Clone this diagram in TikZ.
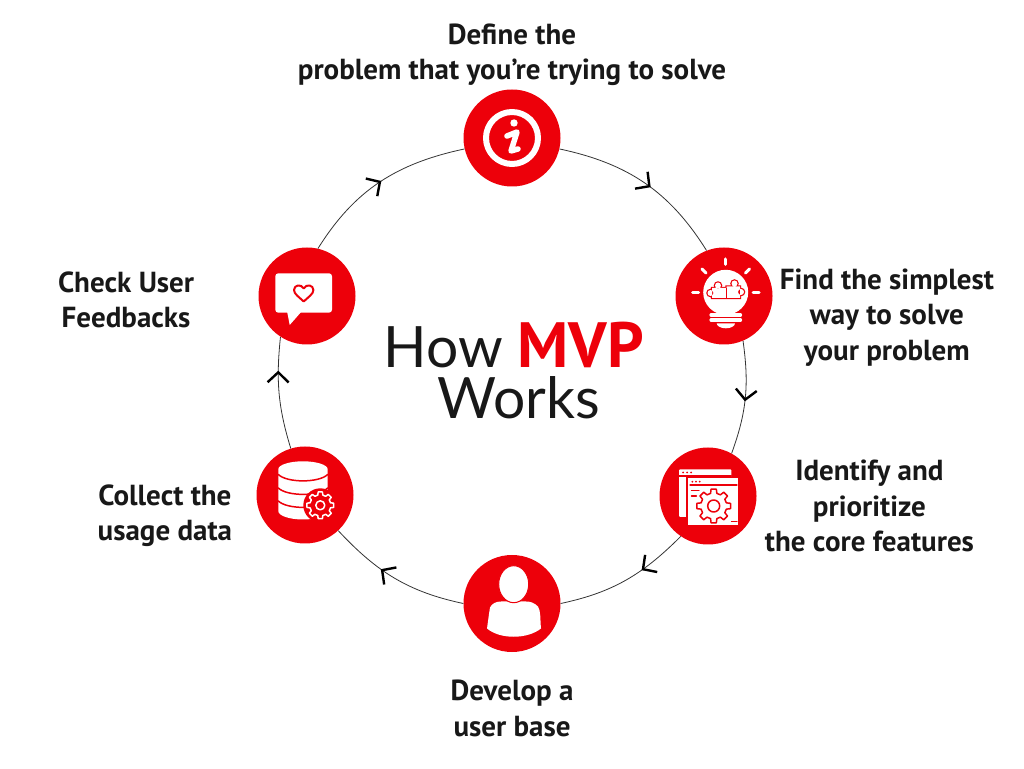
\documentclass[tikz,border=0pt]{standalone}
\usepackage{fontspec}
\setmainfont{PT Sans}
\newfontfamily\titlefont{Lato}
\usetikzlibrary{positioning,arrows.meta,decorations.markings}

\definecolor{mvpred}{RGB}{237,0,10}
\definecolor{mvptext}{RGB}{24,24,24}

\tikzset{
    stepnode/.style={circle, fill=mvpred, minimum size=97pt, inner sep=0pt},
    steplabel/.style={align=center, inner sep=0pt, text=mvptext, font=\fontsize{29}{35.3}\selectfont\bfseries},
    ring/.style={draw=black!80, line width=0.8pt},
    ringarrow/.style={postaction={decorate, decoration={markings,
        mark=at position #1 with {\arrow[line width=2.4pt, black]{Straight Barb[length=10pt,width=21pt]}}}}},
    iconline/.style={draw=white, line cap=round, line join=round},
    redline/.style={draw=mvpred, line cap=round, line join=round}
}

% gear outline around the current origin: \gearpath{tip radius}{root radius}
\newcommand{\gearpath}[2]{
    (-14:#2) \foreach \a in {0,45,...,315} {
        -- (\a-14:#2) -- (\a-9:#1) -- (\a+9:#1) -- (\a+14:#2)
    } -- cycle
}
\newcommand{\puzzleshape}{
    (-12,-2) rectangle (2,8) (-6,10.5) circle (3) (-13.5,3) circle (3)
    (2.5,-2) rectangle (16,9.5) (10.5,12.5) circle (3) (17,4) circle (3)
}

\begin{document}
\begin{tikzpicture}[x=1pt, y=1pt]
    \useasboundingbox (0,0) rectangle (1024,768);

    \node[stepnode] (define) at (512,630) {};
    \node[stepnode] (simplest) at (724,472) {};
    \node[stepnode] (features) at (708,272) {};
    \node[stepnode] (userbase) at (512,164.5) {};
    \node[stepnode] (collect) at (305,273) {};
    \node[stepnode] (feedback) at (307,472) {};

    \node[steplabel, above=3pt of define] (definelabel) {Define the\\problem that you’re trying to solve};
    \node[steplabel, right=7pt of simplest, yshift=-21.5pt] (simplestlabel) {Find the simplest\\way to solve\\your problem};
    \node[steplabel, right=8pt of features, yshift=-10pt] (featureslabel) {Identify and\\prioritize\\the core features};
    \node[steplabel, below=28pt of userbase] (userbaselabel) {Develop a\\user base};
    \node[steplabel, left=24pt of collect, yshift=-20.5pt] (collectlabel) {Collect the\\usage data};
    \node[steplabel, left=64pt of feedback, yshift=-4pt] (feedbacklabel) {Check User\\Feedbacks};

    \node[align=center, inner sep=0pt, text=mvptext, font=\fontsize{57}{51}\selectfont\titlefont] (title) at (513.5,397)
        {How {\fontsize{64}{51}\selectfont\setmainfont{PT Sans}\color{mvpred}\bfseries MVP}\\\hspace*{11pt}Works};

    \draw[ring, ringarrow=0.54] (define.-13) to[out=-12, in=122] (simplest.111);
    \draw[ring, ringarrow=0.53] (simplest.-67) to[out=-82, in=70] (features.61);
    \draw[ring, ringarrow=0.37] (features.236) to[out=225, in=12] (userbase.0);
    \draw[ring, ringarrow=0.61] (userbase.180) to[out=168, in=-47] (collect.-47);
    \draw[ring, ringarrow=0.7] (collect.107) to[out=107, in=-96] (feedback.237);
    \draw[ring, ringarrow=0.51] (feedback.77) to[out=58, in=192] (define.193);

    % info sign
    \begin{scope}[shift={(define)}]
        \draw[iconline, line width=6pt] (0,0) circle (26);
        \fill[white] (2,15) circle (3.7);
        \draw[iconline, line width=5.5pt] (-5,2) -- (5,6) -- (-1,-13) -- (6,-11);
    \end{scope}

    % light bulb with a puzzle
    \begin{scope}[shift={(simplest)}]
        \fill[white] (1.7,3.7) circle (22.5);
        \fill[white] (-9,-16) -- (12.5,-16) -- (18,-5) -- (-15,-5) -- cycle;
        \draw[iconline, line width=3.2pt] (-13,-19) -- (16.5,-19);
        \draw[iconline, line width=3.2pt] (-13,-24) -- (16.5,-24);
        \fill[white] (-7.3,-27.3) -- (11,-27.3) arc (0:-180:9.15 and 5) -- cycle;
        \draw[iconline, line width=3pt] (1.7,37) -- (1.7,31.5);
        \draw[iconline, line width=3pt] (-22,27) -- (-18,23);
        \draw[iconline, line width=3pt] (25.5,27) -- (21.5,23);
        \draw[iconline, line width=3pt] (-31.5,3.7) -- (-25.5,3.7);
        \draw[iconline, line width=3pt] (29,3.7) -- (35,3.7);
        \draw[draw=mvpred, line width=2.4pt] \puzzleshape;
        \fill[white] \puzzleshape;
        \draw[draw=mvpred, line width=1.2pt] (2.2,-2) -- (2.2,8);
    \end{scope}

    % two windows and a gear
    \begin{scope}[shift={(features)}]
        \fill[white, rounded corners=1pt] (-29,26.7) rectangle (23.4,-21);
        \draw[redline, line width=1.2pt] (-29,20) -- (23.4,20);
        \foreach \x in {-25,-21,-17} {\fill[mvpred] (\x,23.5) circle (1);}
        \draw[draw=mvpred, fill=white, line width=1.5pt] (-21,18.5) rectangle (31,-30);
        \foreach \x in {-15.6,-12,-8.3} {\fill[mvpred] (\x,14.3) circle (1);}
        \draw[redline, line width=1.2pt] (-18,11) -- (29,11);
        \draw[redline, line width=1.2pt] (-16.6,5.3) -- (-9,5.3);
        \draw[redline, line width=1.2pt] (-16.6,0) -- (-11.6,0);
        \draw[redline, line width=1.2pt] (23.4,-25.7) -- (29,-25.7);
        \begin{scope}[shift={(5.7,-10)}]
            \draw[redline, line width=1.5pt] \gearpath{17}{13};
            \draw[redline, line width=1.5pt] (0,0) circle (6);
        \end{scope}
    \end{scope}

    % user
    \begin{scope}[shift={(userbase)}]
        \fill[white] (-25,-25) .. controls (-12,-36) and (15,-36) .. (29,-25)
            .. controls (28,-15) and (29,-8) .. (26,-3)
            .. controls (22,1) and (18,2) .. (14,2) -- (-11,2)
            .. controls (-16,2) and (-20,0) .. (-22,-4)
            .. controls (-23,-10) and (-24,-18) .. (-25,-25) -- cycle;
        \draw[draw=mvpred, fill=white, line width=1pt] (1.7,19.3) ellipse (15 and 18.5);
    \end{scope}

    % database with a gear
    \begin{scope}[shift={(collect)}]
        \fill[white] (-26.7,25.7) arc (180:0:24.7 and 8) -- (22.7,-16) arc (0:-180:24.7 and 8.5) -- cycle;
        \draw[redline, line width=1.5pt] (-26.7,20.5) .. controls (-18,12) and (14,12) .. (22.7,20.5);
        \draw[redline, line width=1.5pt] (-26.7,7) .. controls (-18,-1.5) and (14,-1.5) .. (22.7,7);
        \draw[redline, line width=1.5pt] (-26.7,-6) .. controls (-18,-14.5) and (14,-14.5) .. (22.7,-6);
        \begin{scope}[shift={(15.3,-10.3)}]
            \fill[mvpred] (0,0) circle (17);
            \draw[iconline, fill=mvpred, line width=1.5pt] \gearpath{13.5}{10.5};
            \draw[iconline, line width=1.5pt] (0,0) circle (4.5);
        \end{scope}
    \end{scope}

    % speech bubble with a heart
    \begin{scope}[shift={(feedback)}]
        \fill[white, rounded corners=3pt] (-31.7,22.7) rectangle (25,-16.7);
        \fill[white] (-20,-15) -- (-17.3,-29) -- (-5,-15) -- cycle;
        \draw[redline, line width=2pt] (-3.3,-5.5)
            .. controls (-8,-1) and (-13,2) .. (-13,6)
            .. controls (-13,11) and (-6,12.5) .. (-3.3,7.5)
            .. controls (-0.6,12.5) and (6.4,11) .. (6.4,6)
            .. controls (6.4,2) and (1.4,-1) .. (-3.3,-5.5) -- cycle;
    \end{scope}
\end{tikzpicture}
\end{document}
